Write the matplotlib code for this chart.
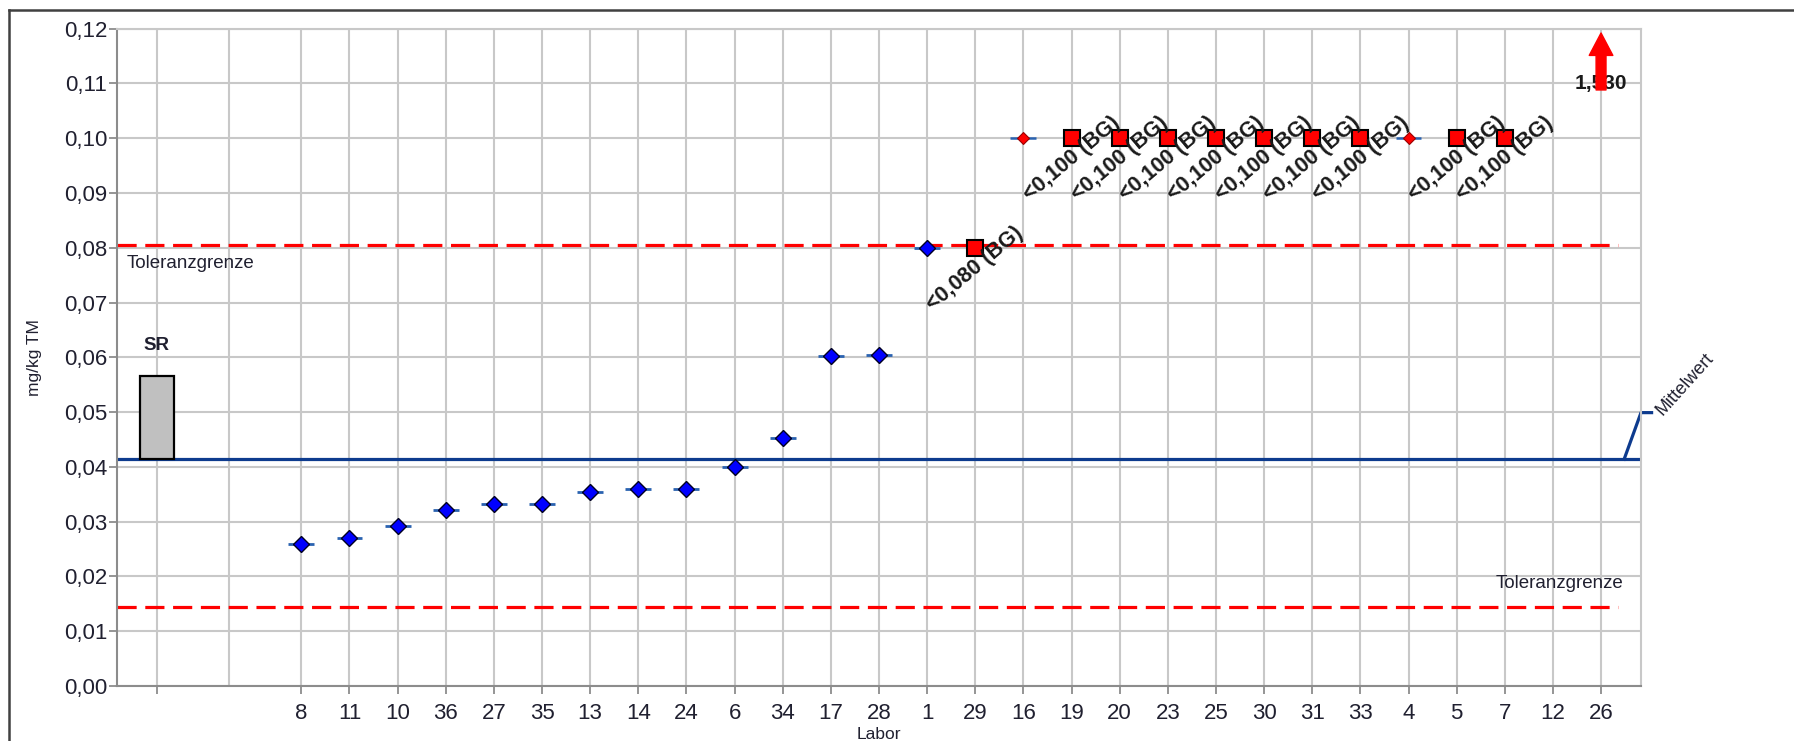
import numpy as np
import matplotlib
matplotlib.use('Agg')
import matplotlib.pyplot as plt
from matplotlib.lines import Line2D
from matplotlib.patches import Rectangle
from matplotlib.ticker import FuncFormatter, MultipleLocator

plt.rcParams['font.family'] = ['Liberation Sans', 'DejaVu Sans']

# Labore in Reihenfolge der Auswertung
labore = ['8', '11', '10', '36', '27', '35', '13', '14', '24', '6', '34', '17',
          '28', '1', '29', '16', '19', '20', '23', '25', '30', '31', '33', '4',
          '5', '7', '12', '26']
werte = [0.0260, 0.0271, 0.0292, 0.0321, 0.0333, 0.0333, 0.0354, 0.0360,
         0.0360, 0.0400, 0.0452, 0.0603, 0.0605, 0.0800, 0.080, 0.100,
         0.100, 0.100, 0.100, 0.100, 0.100, 0.100, 0.100, 0.100,
         0.100, 0.100, None, 1.530]
# w = Messwert, bg = kleiner Bestimmungsgrenze, a = ausserhalb, hoch = ausserhalb Skala
art = ['w'] * 14 + ['bg', 'a'] + ['bg'] * 7 + ['a', 'bg', 'bg', '-', 'hoch']

mittelwert = 0.0414
tol_oben = 0.0805
tol_unten = 0.0145
sr_oben = 0.0566

C_GRID = '#c8c8c8'
C_TXT = '#202030'
C_MW = '#0d3b8e'
C_ERR = '#2a62b0'

fig = plt.figure(figsize=(17.94, 7.41), dpi=100)
ax = fig.add_axes([117 / 1794, 1 - 686 / 741, 1524 / 1794, 657.4 / 741])

xs = np.arange(len(labore)) + 3
x_sr = 0

ax.set_xlim(-0.83, 30.83)
ax.set_ylim(0, 0.12)

# gitter
ax.set_xticks([x_sr] + list(xs))
ax.set_xticklabels([''] + labore)
ax.yaxis.set_major_locator(MultipleLocator(0.01))
ax.yaxis.set_major_formatter(FuncFormatter(lambda v, p: f'{v:.2f}'.replace('.', ',')))
ax.grid(True, color=C_GRID, lw=1.5, zorder=0)
ax.axvline(1.5, color=C_GRID, lw=1.5, zorder=0)
ax.set_axisbelow(True)

for s in ('top', 'right'):
    ax.spines[s].set_color(C_GRID)
    ax.spines[s].set_linewidth(1.5)
for s in ('left', 'bottom'):
    ax.spines[s].set_color('#8c8c8c')
    ax.spines[s].set_linewidth(1.5)
ax.tick_params(axis='both', direction='out', length=6, width=1.3,
               color='#8c8c8c', labelsize=16, labelcolor=C_TXT)
ax.tick_params(axis='x', pad=6)
ax.tick_params(axis='y', pad=1)

# Toleranzgrenzen und Mittelwert
ax.plot([-0.83, 30.35], [tol_oben] * 2, color='#ff0000', lw=2.3,
        dashes=(6, 2.7), zorder=2)
ax.plot([-0.83, 30.35], [tol_unten] * 2, color='#ff0000', lw=2.3,
        dashes=(6, 2.7), zorder=2)
ax.plot([-0.83, 30.83], [mittelwert] * 2, color=C_MW, lw=2.3, zorder=2)
ax.plot([30.48, 30.83, 31.05], [mittelwert, 0.0499, 0.0499], color=C_MW,
        lw=2.3, zorder=2, clip_on=False)
ax.text(31.2, 0.0499, 'Mittelwert', rotation=48, rotation_mode='anchor',
        ha='left', va='center', fontsize=13, color=C_TXT)

ax.text(-0.62, 0.0772, 'Toleranzgrenze', ha='left', va='center',
        fontsize=13.5, color=C_TXT)
ax.text(30.46, 0.0188, 'Toleranzgrenze', ha='right', va='center',
        fontsize=13.5, color=C_TXT)

# SR Balken
ax.add_patch(Rectangle((x_sr - 0.35, mittelwert), 0.7, sr_oben - mittelwert,
                       fc='#c0c0c0', ec='black', lw=1.6, zorder=3))
ax.text(x_sr, 0.0622, 'SR', ha='center', va='center', fontsize=13.5,
        fontweight='bold', color=C_TXT)

# Messwerte
for x, v, a in zip(xs, werte, art):
    if a == 'w':
        ax.errorbar(x, v, xerr=0.27, fmt='none', ecolor=C_ERR,
                    elinewidth=2, capsize=0, zorder=4)
        ax.plot(x, v, 'D', ms=8, mfc='#0000ff', mec='#000022', mew=1, zorder=5)
    elif a == 'a':
        ax.errorbar(x, v, xerr=0.27, fmt='none', ecolor=C_ERR,
                    elinewidth=1.8, capsize=0, zorder=4)
        ax.plot(x, v, 'D', ms=6.5, mfc='#ff0000', mec='#990000', mew=0.8, zorder=5)
    elif a == 'bg':
        ax.plot(x, v, 's', ms=11, mfc='#ff0000', mec='black', mew=1.5, zorder=5)
        txt = f'<{v:.3f}'.replace('.', ',') + ' (BG)'
        ax.text(x, v - 0.0038, txt, rotation=40, ha='center', va='center',
                fontsize=15.5, fontweight='bold', color='#1a1a1a', zorder=6)
    elif a == 'hoch':
        ax.text(x, 0.110, f'{v:.3f}'.replace('.', ','), ha='center',
                va='center', fontsize=15, fontweight='bold', color='#1a1a1a',
                zorder=6)
        ax.annotate('', xy=(x, 0.1192), xytext=(x, 0.1088),
                    arrowprops=dict(arrowstyle='simple,head_length=0.95,'
                                    'head_width=1.0,tail_width=0.42',
                                    mutation_scale=17, color='#ff0000',
                                    shrinkA=0, shrinkB=0),
                    zorder=7, annotation_clip=False)

ax.set_xlabel('Labor', fontsize=12.5, color=C_TXT)
ax.xaxis.set_label_coords(0.5, -0.063)
ax.set_ylabel('mg/kg TM', fontsize=12.5, color=C_TXT)
ax.yaxis.set_label_coords(-0.049, 0.5)

# Rahmen
x0 = 9 / 1794
y0 = 1 - 10 / 741
fig.add_artist(Line2D([x0, x0], [0, y0], color='#404040', lw=1.8))
fig.add_artist(Line2D([x0, 1], [y0, y0], color='#404040', lw=1.8))

fig.savefig('out.png', dpi=100)
